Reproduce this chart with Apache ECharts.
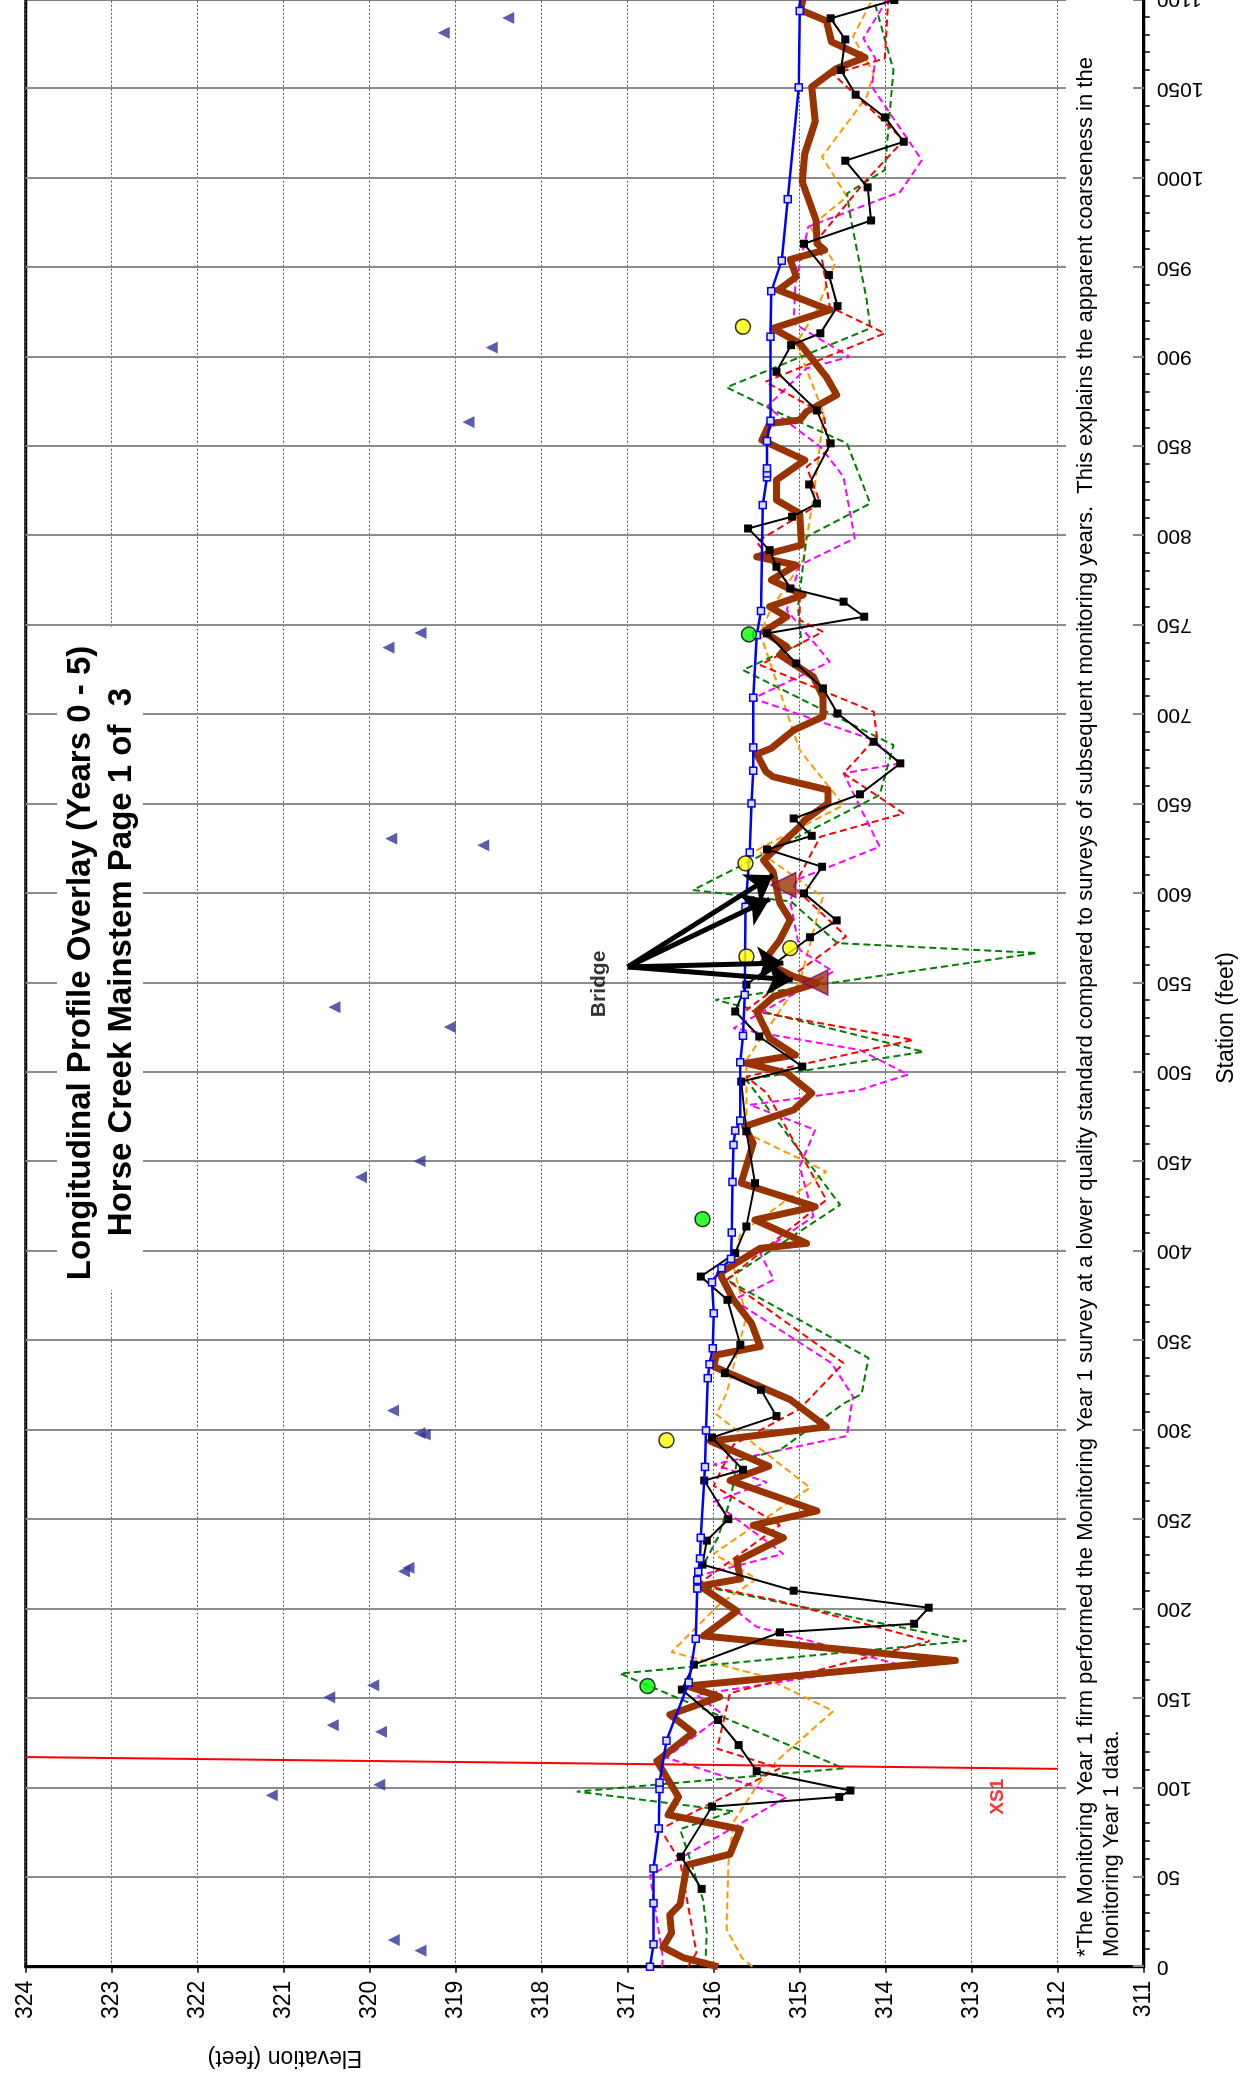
<!DOCTYPE html>
<html>
<head>
<meta charset="utf-8">
<script src="https://cdn.jsdelivr.net/npm/echarts@6/dist/echarts.min.js"></script>
<style>
  html, body { margin: 0; padding: 0; background: #fff; overflow: hidden; }
  body { width: 1242px; height: 2080px; position: relative; }
  /* the chart is laid out landscape, then turned a quarter turn like the original sheet */
  #main {
    position: absolute; left: 0; top: 0;
    width: 2084px; height: 1242px;
    transform-origin: 0 0;
    transform: translate(0, 2080px) rotate(-90deg);
  }
</style>
</head>
<body>
<div id="main"></div>
<script>
/*
 * Horse Creek mainstem, longitudinal profile overlay, page 1 of 3
 * each series: [station (ft), elevation (ft)]
 */
var stationTicks = { min: 0, max: 1100, step: 50 };
var elevTicks = { min: 311, max: 324, step: 1 };

// smooth profile with hollow square markers
var year0 = [[0,316.74],[12.5,316.70],[35.5,316.70],[54.9,316.70],[77.3,316.64],[99.3,316.63],[102.9,316.63],[126.3,316.55],
  [158.9,316.29],[183.3,316.21],[211.4,316.19],[216.2,316.19],[220.8,316.18],[228.2,316.16],[239.8,316.15],[279.4,316.10],
  [299.8,316.09],[329.0,316.07],[336.8,316.05],[345.7,316.01],[365.3,316.00],[382.6,316.02],[390.5,315.91],[395.7,315.80],
  [410.4,315.79],[438.7,315.78],[459.4,315.77],[467.4,315.75],[473.0,315.69],[505.6,315.69],[520.4,315.66],[543.3,315.64],
  [592.5,315.63],[622.9,315.58],[650.3,315.56],[668.6,315.54],[681.6,315.54],[709.4,315.54],[744.4,315.50],[757.9,315.45],
  [817.1,315.43],[832.6,315.38],[834.8,315.38],[837.6,315.38],[852.9,315.38],[864.2,315.34],[911.2,315.34],[936.7,315.33],
  [953.7,315.21],[988.1,315.14],[1050.6,315.01],[1093.3,315.00],[1115,314.98]];

// monitoring year 1 (coarse survey)
var year1 = [[43.5,316.14],[61.5,316.38],[89.5,316.02],[94.9,314.54],[98.5,314.41],[109.3,315.50],[123.9,315.71],[137.9,315.95],
  [154.9,316.37],[168.9,316.23],[186.9,315.23],[191.7,313.67],[200.7,313.50],[210.2,315.07],[224.8,316.13],[238.2,316.08],
  [250.2,315.83],[271.8,316.11],[277.8,315.66],[295.8,316.02],[307.8,315.27],[322.5,315.45],[331.8,315.87],[347.6,315.69],
  [372.8,315.84],[385.8,316.15],[398.9,315.75],[413.8,315.62],[438,315.52],[467,315.62],[494.8,315.68],[503.2,314.97],
  [520,315.47],[534,315.75],[549,315.62],[575.5,314.88],[584.9,314.57],[600,314.95],[614.9,314.74],[624.6,315.38],
  [632.2,314.86],[641.9,315.07],[655.4,314.30],[672.7,313.83],[684.8,314.14],[700.6,314.56],[714.6,314.73],[728.6,315.04],
  [745.4,315.38],[754.7,314.25],[763.1,314.49],[770.5,315.11],[782.6,315.27],[791.9,315.35],[804,315.60],[810.6,315.09],
  [818,314.80],[828.6,314.89],[851.6,314.64],[870,314.80],[891.6,315.27],[906.5,315.10],[913.1,314.76],[928.3,314.56],
  [945.7,314.66],[963.2,314.95],[976.2,314.17],[994.7,314.21],[1009.6,314.47],[1020.2,313.79],[1033.8,314.01],[1046.5,314.35],
  [1060.3,314.52],[1077.4,314.47],[1089.2,314.64],[1099.4,313.90]];

var year2 = [[0,316.30],[7.9,316.20],[58.9,316.39],[76.9,316.62],[110.9,315.23],[121.9,315.96],[152.9,315.81],[182,313.49],
  [204.8,315.27],[213.8,316.18],[246.8,315.23],[268.8,316.00],[291.8,315.77],[311.8,315.00],[337.4,314.49],[384,315.85],
  [428.7,314.69],[488.3,315.38],[497.6,315.62],[518.1,313.68],[534.9,315.62],[576,314.46],[603.7,315.07],[631.7,314.76],
  [644.7,313.79],[667.1,314.49],[687.6,314.10],[701.6,314.14],[727.7,315.46],[746.3,314.73],[752.8,315.00],[764.3,315.00],
  [796.6,315.50],[818,314.76],[838.5,314.92],[847.8,314.67],[868.3,314.72],[886,315.40],[913.1,314.01],[927.9,314.65],
  [966.2,314.78],[996.9,314.26],[1021.1,313.79],[1058,314.61],[1066.8,314.01],[1100,313.97]];

var year3 = [[0,316.10],[18.9,316.08],[36.9,316.12],[76.9,316.39],[86.9,315.77],[97.9,317.59],[110.9,314.49],[163.9,317.09],
  [182.1,313.06],[213.8,316.24],[240,315.95],[262,315.80],[282.8,315.73],[288.8,315.23],[314.8,314.49],[320.1,314.28],
  [340.3,314.20],[384,315.85],[425.9,314.53],[495.8,315.62],[511.5,313.56],[540.5,315.98],[566.7,312.24],[572.2,314.56],
  [595.5,315.10],[601.9,316.24],[655,314.07],[682.9,313.91],[724.9,315.66],[739.8,314.98],[760.3,315.02],[799.4,314.92],
  [818,314.18],[851.6,314.45],[870.2,315.31],[882.9,315.85],[915.9,314.18],[931.7,314.22],[978.3,314.41],[991.3,314.45],
  [1004.4,314.01],[1060.3,313.91],[1100,314.14]];

var year4 = [[0,316.60],[4.9,316.59],[50.9,316.74],[94.9,315.15],[116.9,316.55],[140.9,315.89],[152,316.20],[169.2,313.87],
  [190,315.50],[217.8,316.24],[230.8,315.19],[259.8,316.00],[270.8,315.38],[280.8,316.00],[296.7,314.45],[318.7,314.38],
  [337.4,314.63],[372.8,315.77],[384,315.30],[398.9,315.46],[419.4,314.84],[447.3,315.00],[467.8,314.82],[481.8,315.58],
  [490.2,314.30],[498.7,313.74],[512.5,314.30],[524.6,315.77],[556.3,314.61],[568.4,315.00],[595.5,315.11],[607.5,315.04],
  [626.1,314.07],[667.1,314.49],[672.7,313.83],[685.7,314.14],[709,315.54],[729.5,314.65],[758.4,315.15],[783.5,315.00],
  [798.5,314.36],[832.9,314.49],[849.7,314.76],[872.1,315.38],[893.5,314.92],[900,314.42],[918.7,315.07],[941,315.05],
  [972.7,314.90],[992.2,313.83],[1009.9,313.58],[1051,314.16],[1066.8,314.12],[1078,314.26],[1097.5,314.01],[1100,314.00]];

var year4b = [[0,315.55],[4.9,315.67],[20.9,315.85],[56.9,315.83],[80.9,315.77],[100.9,315.50],[114.9,315.27],[142.9,314.61],
  [162.9,315.46],[175.9,316.49],[202.8,315.93],[216.8,315.50],[230.8,316.00],[267.8,314.88],[308.8,315.97],[320.6,315.85],
  [363.5,315.62],[391.4,315.77],[410,315.69],[444.5,314.69],[466,315.62],[506.9,315.62],[550.7,315.00],[598.1,314.73],
  [624.2,315.50],[649.4,314.49],[680.1,315.00],[745.4,315.46],[758.4,315.34],[786.3,314.96],[821.7,314.84],[868.3,314.72],
  [907.5,315.04],[926.1,314.80],[952.2,314.59],[972.7,314.88],[989.4,314.45],[1011.8,314.74],[1045.4,314.22],[1058.4,314.14],
  [1078.9,314.38],[1099.4,314.16]];

// latest survey, heavy brown line
var year5 = [[0,315.95],[5,316.35],[10.9,316.59],[18.9,316.49],[28.9,316.51],[34.9,316.39],[56.9,316.31],[62.9,315.81],
  [76.9,315.69],[84.9,316.53],[94.9,316.41],[114.9,316.66],[130.9,316.24],[140.9,316.51],[150.9,315.93],[156.9,316.31],
  [171.2,313.19],[184.9,316.12],[198.8,315.73],[212.8,316.16],[216.8,315.69],[226.8,315.73],[239.8,315.19],[246.8,315.54],
  [254.8,314.80],[271.8,315.81],[279.8,315.36],[293.8,316.04],[301.8,314.69],[317,315.11],[335.5,316.00],[342,315.97],
  [346.7,315.46],[359.7,315.56],[372.8,315.77],[387.7,315.93],[401.6,315.46],[404.4,314.92],[417.5,315.52],[424.9,314.82],
  [438,315.68],[460.4,315.54],[469.7,315.64],[479,315.07],[488.3,314.86],[499.5,315.15],[505.1,315.62],[509.7,315.05],
  [519.1,315.35],[534,315.50],[542.4,315.30],[549.8,314.80],[553.5,315.07],[561.9,315.42],[574,315.23],[585.2,315.11],
  [594.5,315.23],[612.1,315.31],[618.6,315.42],[637.3,315.00],[641,314.94],[650.3,314.67],[657.8,314.67],[665.2,315.31],
  [668,315.39],[677.9,315.50],[681.1,315.33],[691.3,315.07],[698.8,314.73],[710,314.73],[721.1,314.84],[733.3,315.23],
  [737.9,315.15],[746.3,315.42],[754.7,315.15],[760.3,315.35],[766.8,314.96],[775.2,315.33],[783.5,315.04],[788.2,315.50],
  [794.7,314.98],[812.4,315.00],[819.9,315.27],[831.1,315.27],[842.2,314.94],[853.4,315.44],[862.7,315.35],[864.6,315.00],
  [869.3,314.92],[878.6,314.57],[888.8,314.69],[907.5,315.00],[915.9,315.31],[926.1,314.65],[937.3,315.25],[944.7,315.04],
  [954.4,315.11],[959.6,314.71],[963.4,314.80],[976.4,314.81],[997.8,314.97],[1013.7,314.94],[1031.4,314.82],[1050.9,314.86],
  [1061.2,314.57],[1067.3,314.24],[1076.1,314.63],[1087.8,314.69],[1093.8,314.99],[1100,314.96]];

var bankPoints = [[9.0,319.41],[14.9,319.72],[95.8,321.14],[101.7,319.89],[131.3,319.87],[135.0,320.43],[150.6,320.47],
  [157.3,319.96],[221.0,319.60],[223.0,319.55],[297.5,319.36],[298.3,319.42],[310.9,319.73],[441.4,320.10],[450.3,319.42],
  [525.3,319.07],[536.4,320.41],[626.9,318.68],[630.6,319.75],[737.4,319.78],[745.6,319.41],[863.5,318.85],[905.1,318.58],
  [1081.1,319.14],[1089.4,318.39]];
var yellowPoints = [[294.3,316.55],[564.7,315.62],[569.4,315.11],[616.8,315.63],[916.8,315.66]];
var greenPoints = [[156.9,316.77],[417.9,316.13],[744.8,315.59]];
var bridgePoints = [[550.2,314.82],[604.7,315.19]];
var bridgeFrom = [558.9, 317.0];
var bridgeTo = [[610.2,315.31],[596.8,315.35],[561.1,315.19],[551.6,315.08]];
var bridgeLabelAt = [549.4, 317.33];
var xs1Line = [[117.2,324],[110.6,312]];
var xs1LabelAt = [95.0, 312.70];

var FONT = '"Liberation Sans", Arial, sans-serif';

function dashed(name, data, color) {
  return {
    name: name, type: 'line', data: data, z: 2,
    symbol: 'none',
    lineStyle: { color: color, width: 2, type: [7, 4] }
  };
}

function textMark(name, at, text, color, size) {
  return {
    name: name, type: 'scatter', z: 9, symbolSize: 1,
    data: [at],
    itemStyle: { color: 'rgba(0,0,0,0)' },
    label: {
      show: true, position: 'inside', formatter: text,
      color: color, fontSize: size, fontWeight: 'bold', fontFamily: FONT
    }
  };
}

var chart = echarts.init(document.getElementById('main'));

var option = {
  animation: false,
  backgroundColor: '#fff',
  grid: {
    left: 113.3, right: 3, top: 25.7, bottom: 98.3,
    containLabel: false, outerBoundsMode: 'none',
    show: true, borderColor: '#000', borderWidth: 3, backgroundColor: '#fff'
  },
  xAxis: {
    type: 'value', min: stationTicks.min, max: stationTicks.max, interval: stationTicks.step,
    axisLine: { lineStyle: { color: '#000', width: 3 } },
    axisTick: { inside: true, length: 11, lineStyle: { color: '#888', width: 2 } },
    minorTick: { show: true, splitNumber: 5, length: -6, lineStyle: { color: '#000', width: 1.5 } },
    axisLabel: {
      rotate: 90, margin: 13, fontSize: 21, color: '#000', fontFamily: FONT,
      formatter: function (v) { return String(v); }
    },
    splitLine: { show: true, lineStyle: { color: '#8c8c8c', width: 2 } }
  },
  yAxis: {
    type: 'value', min: elevTicks.min, max: elevTicks.max, interval: elevTicks.step,
    axisLine: { show: true, lineStyle: { color: '#000', width: 3 } },
    axisTick: { show: true, inside: false, length: 6, lineStyle: { color: '#000', width: 1.5 } },
    axisLabel: {
      margin: 14, fontSize: 23, color: '#000', fontFamily: FONT,
      formatter: function (v) { return String(v); }
    },
    splitLine: { show: true, lineStyle: { color: '#555', width: 1, type: [2, 2] } }
  },
  graphic: [
    // white boxes behind the title and the footnote
    { type: 'rect', z: 1, shape: { x: 790, y: 57, width: 663, height: 86 }, style: { fill: '#fff' } },
    { type: 'rect', z: 1, shape: { x: 115, y: 1066, width: 1967, height: 67 }, style: { fill: '#fff' } },
    { type: 'text', z: 3, x: 1117, y: 81, style: { text: 'Longitudinal Profile Overlay (Years 0 - 5)',
        font: 'bold 33px ' + FONT, fill: '#000', textAlign: 'center', textVerticalAlign: 'middle' } },
    { type: 'text', z: 3, x: 1118, y: 122, style: { text: 'Horse Creek Mainstem Page 1 of  3',
        font: 'bold 33px ' + FONT, fill: '#000', textAlign: 'center', textVerticalAlign: 'middle' } },
    { type: 'text', z: 3, x: 123, y: 1073, style: {
        text: '*The Monitoring Year 1 firm performed the Monitoring Year 1 survey at a lower quality standard compared to surveys of subsequent monitoring years.  This explains the apparent coarseness in the\nMonitoring Year 1 data.',
        font: '22px ' + FONT, lineHeight: 26, fill: '#000', textAlign: 'left', textVerticalAlign: 'top' } },
    { type: 'text', z: 3, x: 1062, y: 1227, style: { text: 'Station (feet)',
        font: '23px ' + FONT, fill: '#000', textAlign: 'center', textVerticalAlign: 'middle' } },
    { type: 'text', z: 3, x: 23, y: 285, rotation: Math.PI / 2, style: { text: 'Elevation (feet)',
        font: '23px ' + FONT, fill: '#000', textAlign: 'center', textVerticalAlign: 'middle' } }
  ],
  series: [
    dashed('Year 4b', year4b, '#ff9900'),
    dashed('Year 4', year4, '#ff00ff'),
    dashed('Year 3', year3, '#008000'),
    dashed('Year 2', year2, '#ff0000'),
    {
      name: 'Year 5', type: 'line', data: year5, z: 3, symbol: 'none',
      lineStyle: { color: '#993300', width: 7, join: 'round' }
    },
    {
      name: 'Year 1', type: 'line', data: year1, z: 4, symbol: 'rect', symbolSize: 8,
      itemStyle: { color: '#000' }, lineStyle: { color: '#000', width: 2 }
    },
    {
      name: 'Year 0', type: 'line', data: year0, z: 5, symbol: 'rect', symbolSize: 7,
      itemStyle: { color: '#dde', borderColor: '#0000ff', borderWidth: 1.5 },
      lineStyle: { color: '#0000ff', width: 2.5 }
    },
    {
      name: 'XS1', type: 'lines', coordinateSystem: 'cartesian2d', z: 3,
      data: [{ coords: xs1Line }], symbol: 'none',
      lineStyle: { color: '#ff0000', width: 2, opacity: 1 }
    },
    {
      name: 'Bank', type: 'scatter', data: bankPoints, z: 6, symbol: 'triangle', symbolSize: 12,
      itemStyle: { color: '#333399' }
    },
    {
      name: 'Bridge deck', type: 'scatter', data: bridgePoints, z: 6, symbol: 'triangle', symbolSize: 25,
      itemStyle: { color: '#993300', borderColor: '#7f007f', borderWidth: 1.5 }
    },
    {
      name: 'Pool', type: 'scatter', data: yellowPoints, z: 7, symbol: 'circle', symbolSize: 15,
      itemStyle: { color: '#ffff00', borderColor: '#000', borderWidth: 1.5 }
    },
    {
      name: 'Riffle', type: 'scatter', data: greenPoints, z: 7, symbol: 'circle', symbolSize: 15,
      itemStyle: { color: '#00ff00', borderColor: '#000', borderWidth: 1.5 }
    },
    {
      name: 'Bridge arrows', type: 'lines', coordinateSystem: 'cartesian2d', z: 8,
      data: bridgeTo.map(function (p) { return { coords: [bridgeFrom, p] }; }),
      symbol: ['none', 'arrow'], symbolSize: [18, 26],
      lineStyle: { color: '#000', width: 5, opacity: 1 }
    },
    textMark('Bridge label', bridgeLabelAt, 'Bridge', '#000', 21),
    textMark('XS1 label', xs1LabelAt, 'XS1', '#ff0000', 19)
  ]
};

chart.setOption(option);
</script>
</body>
</html>
